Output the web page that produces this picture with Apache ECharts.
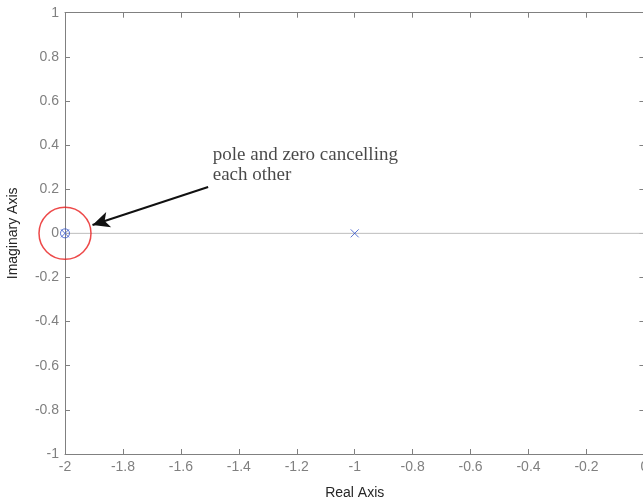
<!DOCTYPE html>
<html>
<head>
<meta charset="utf-8">
<script src="https://cdn.jsdelivr.net/npm/echarts@6/dist/echarts.min.js"></script>
<style>html,body{margin:0;padding:0;background:#fff;}#c{width:643px;height:501px;}</style>
</head>
<body>
<div id="c"></div>
<script>
// Data
const poles = [[-2, 0], [-1, 0]];
const zeros = [[-2, 0]];
const zeroLine = [[-2, 0], [0, 0]];
const highlight = [[-2, 0]];
const arrowFrom = [-1.506, 0.21];
const arrowTo = [-1.905, 0.038];
const notePos = [-1.49, 0.31];
const noteText = 'pole and zero cancelling\neach other';
const xRange = [-2, 0];
const yRange = [-1, 1];

const axisGray = '#808080';
const markerBlue = '#3050c8';

const chart = echarts.init(document.getElementById('c'), null, {renderer: 'canvas'});
const baseAxis = {
  type: 'value',
  interval: 0.2,
  splitLine: {show: false},
  axisLine: {show: true, onZero: false, lineStyle: {color: axisGray, width: 1}},
  axisTick: {show: true, inside: true, length: 5, lineStyle: {color: axisGray}},
  axisLabel: {color: axisGray, fontSize: 14, fontFamily: 'Liberation Sans, Arial', margin: 6,
    formatter: v => String(Math.round(v * 10) / 10)}
};
chart.setOption({
  animation: false,
  grid: {left: 65, top: 12.7, right: -1.4, bottom: 47, containLabel: false, outerBoundsMode: 'none'},
  xAxis: [
    Object.assign({}, baseAxis, {min: xRange[0], max: xRange[1], position: 'bottom',
      name: 'Real Axis', nameLocation: 'middle', nameGap: 32,
      nameTextStyle: {color: '#262626', fontSize: 14, fontFamily: 'Liberation Sans, Arial'}}),
    Object.assign({}, baseAxis, {min: xRange[0], max: xRange[1], position: 'top',
      axisLabel: {show: false}})
  ],
  yAxis: [
    Object.assign({}, baseAxis, {min: yRange[0], max: yRange[1], position: 'left',
      name: 'Imaginary Axis', nameLocation: 'middle', nameGap: 45,
      nameTextStyle: {color: '#262626', fontSize: 14, fontFamily: 'Liberation Sans, Arial'}}),
    Object.assign({}, baseAxis, {min: yRange[0], max: yRange[1], position: 'right',
      axisLabel: {show: false}})
  ],
  series: [
    {
      type: 'line', data: zeroLine, symbol: 'none', silent: true,
      lineStyle: {color: '#bdbdbd', width: 1}, z: 1
    },
    {
      type: 'scatter', data: poles,
      symbol: 'path://M0,0L10,10M10,0L0,10', symbolSize: 8,
      itemStyle: {color: 'none', borderColor: markerBlue, borderWidth: 1}, z: 3
    },
    {
      type: 'scatter', data: zeros, symbol: 'circle', symbolSize: 9,
      itemStyle: {color: 'none', borderColor: markerBlue, borderWidth: 1}, z: 3
    },
    {
      type: 'scatter', data: highlight, symbol: 'circle', symbolSize: 52,
      itemStyle: {color: 'none', borderColor: '#e81c1c', borderWidth: 1.5}, z: 4,
      markLine: {
        silent: true, symbol: ['none', 'arrow'], symbolSize: [12, 17],
        lineStyle: {color: '#111', width: 2, type: 'solid'},
        label: {show: false},
        data: [[{coord: arrowFrom}, {coord: arrowTo}]]
      }
    },
    {
      type: 'scatter', data: [notePos], symbolSize: 0, silent: true,
      label: {show: true, position: 'right', distance: 0, formatter: noteText,
        color: '#1a1a1a', fontSize: 19, lineHeight: 20,
        fontFamily: 'Liberation Serif, Times New Roman, serif', align: 'left', verticalAlign: 'middle'}
    }
  ]
});
</script>
</body>
</html>
